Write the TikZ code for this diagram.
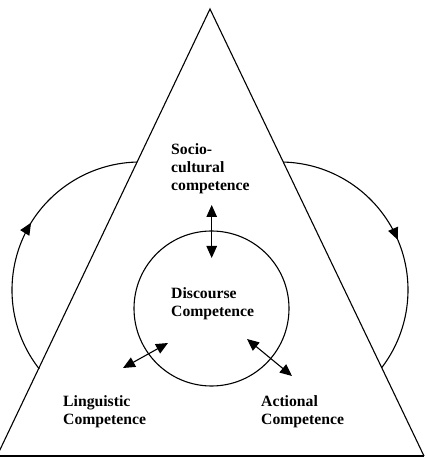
\documentclass[tikz,border=0pt]{standalone}
\usepackage{fontspec}
\setmainfont{Liberation Serif}
\usetikzlibrary{arrows.meta,decorations.markings}
\begin{document}
\begin{tikzpicture}[x=1pt,y=1pt,
  outline/.style={line width=1.1pt},
  twoway/.style={line width=1.1pt,{Triangle[length=12pt,width=10.5pt]}-{Triangle[length=12pt,width=10.5pt]}},
  midtip/.style={postaction={decorate},decoration={markings,mark=at position #1 with {\arrow{Triangle[length=12pt,width=10.5pt]}}}},
  lbl/.style={font=\fontsize{15.7}{18}\selectfont\bfseries,inner sep=0pt,anchor=base west,align=left}]
\useasboundingbox (0,0) rectangle (424,474);
% triangle
\coordinate (apex) at (210,465);
\coordinate (bl) at (-3,18);
\coordinate (br) at (424,18);
\coordinate (b0) at (0,18);
\draw[outline,line join=miter] (bl) -- (apex) -- (br);
\draw[line width=1.6pt] (b0) -- (br);
% inner circle
\node[draw,outline,circle,minimum size=155pt,inner sep=0pt] (disc) at (211.5,165.5) {};
% side arcs
\coordinate (lc) at (140,184);
\coordinate (rc) at (280,184);
\draw[outline,midtip=0.55] ([shift={(218.1:128)}]lc) arc[start angle=218.1,end angle=91.2,radius=128];
\draw[outline,midtip=0.52] ([shift={(88.6:128)}]rc) arc[start angle=88.6,end angle=-37.4,radius=128];
% two-way arrows
\coordinate (sa) at (211.7,269);
\coordinate (sb) at (211.7,216);
\coordinate (la) at (123,106);
\coordinate (lb) at (168,131);
\coordinate (ra) at (247,135);
\coordinate (rb) at (292,98);
\draw[twoway] (sa) -- (sb);
\draw[twoway] (la) -- (lb);
\draw[twoway] (ra) -- (rb);
% labels (base anchor = baseline of last line)
\node[lbl] (socio) at (171,283) {Socio-\\cultural\\competence};
\node[lbl] (disct) at (171,157) {Discourse\\Competence};
\node[lbl] (ling) at (63,49) {Linguistic\\Competence};
\node[lbl] (act) at (261,49) {Actional\\Competence};
\end{tikzpicture}
\end{document}
